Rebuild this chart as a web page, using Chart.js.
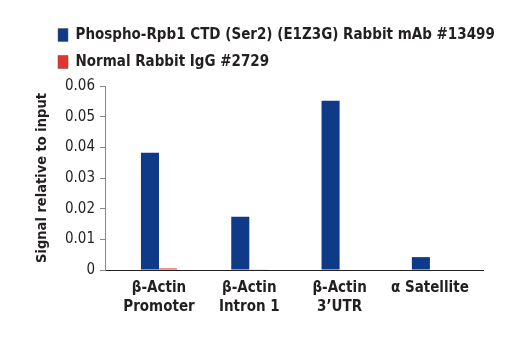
<!DOCTYPE html>
<html><head><meta charset="utf-8">
<script src="https://cdn.jsdelivr.net/npm/chart.js@4/dist/chart.umd.min.js"></script>
<style>html,body{margin:0;padding:0;background:#fff}</style>
</head><body>
<canvas id="c" width="520" height="350"></canvas>
<script>
const categories = [["β-Actin", "Promoter"], ["β-Actin", "Intron 1"], ["β-Actin", "3’UTR"], "α Satellite"];
const categoryPositions = [0, 1, 2, 3];
const seriesNames = ["Phospho-Rpb1 CTD (Ser2) (E1Z3G) Rabbit mAb #13499", "Normal Rabbit IgG #2729"];
const phosphoValues = [0.0382, 0.0174, 0.0552, 0.0042];
const iggValues = [0.0005, 0.0002, 0, 0];
const yTickValues = [0, 0.01, 0.02, 0.03, 0.04, 0.05, 0.06];
const yTickLabels = ["0", "0.01", "0.02", "0.03", "0.04", "0.05", "0.06"];
const yTitle = "Signal relative to input";

const FONT = "'Liberation Sans Narrow', 'DejaVu Sans Condensed', 'Arial Narrow', sans-serif";
const toPoints = vals => vals.map((v, i) => ({x: categoryPositions[i], y: v}));

const legendShift = {
  id: 'legendShift',
  afterLayout(chart) {
    const l = chart.legend;
    if (l) { l.left += 46; l.right += 46; l.top -= 6.5; l.bottom -= 6.5; }
  }
};

new Chart(document.getElementById('c'), {
  type: 'bar',
  data: {
    datasets: [
      {label: seriesNames[0], data: toPoints(phosphoValues), backgroundColor: '#0f3a87', borderColor: '#0f3a87', borderWidth: 0},
      {label: seriesNames[1], data: toPoints(iggValues), backgroundColor: '#e5332f', borderColor: '#e5332f', borderWidth: 0}
    ]
  },
  plugins: [legendShift],
  options: {
    responsive: false,
    animation: false,
    devicePixelRatio: 1,
    categoryPercentage: 0.4,
    barPercentage: 1,
    layout: {padding: {top: 22, right: 37, bottom: 25, left: 0}},
    plugins: {
      tooltip: {enabled: false},
      legend: {
        position: 'top',
        align: 'start',
        labels: {
          boxWidth: 10, boxHeight: 13, padding: 12,
          color: '#231f20',
          font: {family: FONT, size: 15, weight: 'bold'},
          generateLabels(chart) {
            return chart.data.datasets.map((d, i) => ({
              text: d.label, fillStyle: d.backgroundColor, strokeStyle: '#555', lineWidth: 0.5,
              hidden: false, datasetIndex: i, fontColor: '#231f20'
            }));
          }
        }
      }
    },
    scales: {
      x: {
        type: 'linear',
        offset: false,
        min: -0.598, max: 3.588,
        afterBuildTicks(scale) { scale.ticks = categoryPositions.map(v => ({value: v})); },
        grid: {display: false, drawTicks: false, offset: false},
        border: {display: true, color: '#231f20', width: 1},
        ticks: {
          padding: 8,
          color: '#231f20',
          maxRotation: 0, autoSkip: false,
          font: {family: FONT, size: 15, weight: 'bold', lineHeight: 1.3},
          callback(v) { const i = categoryPositions.indexOf(v); return i >= 0 ? categories[i] : ''; }
        }
      },
      y: {
        min: 0, max: 0.06,
        afterFit(scale) { scale.width = 105; },
        afterBuildTicks(scale) { scale.ticks = yTickValues.map(v => ({value: v})); },
        grid: {display: true, drawOnChartArea: false, drawTicks: true, tickLength: 5, color: '#8a8a8a'},
        border: {display: true, color: '#8a8a8a', width: 1},
        ticks: {
          padding: 5,
          color: '#231f20',
          font: {family: FONT, size: 15},
          callback(v) { const i = yTickValues.indexOf(v); return i >= 0 ? yTickLabels[i] : ''; }
        },
        title: {
          display: true, text: yTitle, color: '#231f20',
          font: {family: FONT, size: 14.5, weight: 'bold'},
          padding: {top: 34, bottom: 0}
        }
      }
    }
  }
});
</script>
</body></html>
